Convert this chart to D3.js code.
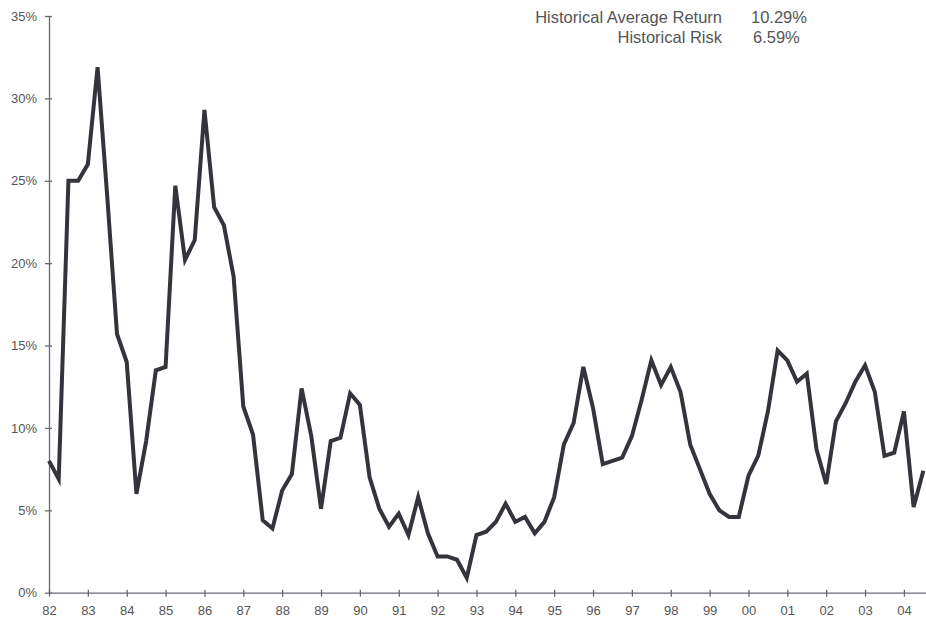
<!DOCTYPE html>
<html>
<head>
<meta charset="utf-8">
<script src="https://cdn.jsdelivr.net/npm/d3@7"></script>
<style>
  body { margin: 0; background: #fff; }
  svg { display: block; font-family: 'Liberation Sans', Arial, sans-serif; }
</style>
</head>
<body>
<svg></svg>
<script>
// quarterly returns, 82 Q1 onwards (%)
let returns = [
    8.0, 6.9, 25.0, 25.0, 26.0, 31.9, 24.0, 15.7,
    14.0, 6.0, 9.2, 13.5, 13.7, 24.7, 20.2, 21.4,
    29.3, 23.4, 22.3, 19.2, 11.3, 9.6, 4.4, 3.9,
    6.2, 7.2, 12.4, 9.5, 5.1, 9.2, 9.4, 12.1,
    11.4, 7.0, 5.1, 4.0, 4.8, 3.5, 5.8, 3.6,
    2.2, 2.2, 2.0, 0.9, 3.5, 3.7, 4.3, 5.4,
    4.3, 4.6, 3.6, 4.3, 5.8, 9.0, 10.3, 13.7,
    11.2, 7.8, 8.0, 8.2, 9.5, 11.7, 14.1, 12.6,
    13.7, 12.2, 9.0, 7.5, 6.0, 5.0, 4.6, 4.6,
    7.1, 8.3, 11.0, 14.7, 14.1, 12.8, 13.3, 8.7,
    6.6, 10.4, 11.5, 12.8, 13.8, 12.2, 8.3, 8.5,
    11.0, 5.2, 7.4
]
let yearLabels = ['82','83','84','85','86','87','88','89','90','91','92','93',
                  '94','95','96','97','98','99','00','01','02','03','04']
let yTicks = [0, 5, 10, 15, 20, 25, 30, 35]
let statNames = ['Historical Average Return', 'Historical Risk']
let statValues = ['10.29%', '6.59%']

let width = 926
let height = 619

let svg = d3.select('svg')
            .attr('width', width)
            .attr('height', height)

let xScale = d3.scaleLinear()
               .domain([0, 92])
               .range([49, 49 + 92 * 9.715])

let yScale = d3.scaleLinear()
               .domain([0, 35])
               .range([592.7, 16])

let axisColor = '#6b6677'
let labelColor = '#555'

// y axis
let yAxis = d3.axisLeft(yScale)
              .tickValues(yTicks)
              .tickFormat(d => d + '%')
              .tickSizeOuter(0)

let gy = svg.append('g')
            .attr('transform', 'translate(' + xScale(0) + ',0)')
            .call(yAxis)
gy.select('.domain').attr('stroke', axisColor).attr('stroke-width', 1.3)
gy.selectAll('.tick line').attr('x1', -4).attr('x2', 3).attr('stroke', axisColor).attr('stroke-width', 1.3)
gy.selectAll('.tick text')
  .attr('x', -12)
  .attr('fill', labelColor)
  .style('font-size', '13px')

// x axis
let xAxis = d3.axisBottom(xScale)
              .tickValues(yearLabels.map((d, i) => i * 4))
              .tickFormat((d, i) => yearLabels[i])
              .tickSizeOuter(0)

let gx = svg.append('g')
            .attr('transform', 'translate(0,' + yScale(0) + ')')
            .call(xAxis)
gx.select('.domain').attr('stroke', axisColor).attr('stroke-width', 1.3)
gx.selectAll('.tick line').attr('y1', -3).attr('y2', 4).attr('stroke', axisColor).attr('stroke-width', 1.3)
gx.selectAll('.tick text')
  .attr('y', 13)
  .attr('fill', labelColor)
  .style('font-size', '13px')

// the series
let line = d3.line()
             .x((d, i) => xScale(i))
             .y(d => yScale(d))

svg.append('path')
   .datum(returns)
   .attr('d', line)
   .attr('fill', 'none')
   .attr('stroke', '#35343c')
   .attr('stroke-width', 4)
   .attr('stroke-linejoin', 'miter')

// stats in the corner
svg.selectAll('.stat-name')
   .data(statNames)
   .enter()
   .append('text')
   .attr('class', 'stat-name')
   .attr('x', 722)
   .attr('y', (d, i) => 23 + i * 20)
   .attr('text-anchor', 'end')
   .attr('fill', labelColor)
   .style('font-size', '16.5px')
   .text(d => d)

svg.selectAll('.stat-value')
   .data(statValues)
   .enter()
   .append('text')
   .attr('class', 'stat-value')
   .attr('x', (d, i) => i == 0 ? 751 : 753)
   .attr('y', (d, i) => 23 + i * 20)
   .attr('fill', labelColor)
   .style('font-size', '16.5px')
   .text(d => d)
</script>
</body>
</html>
